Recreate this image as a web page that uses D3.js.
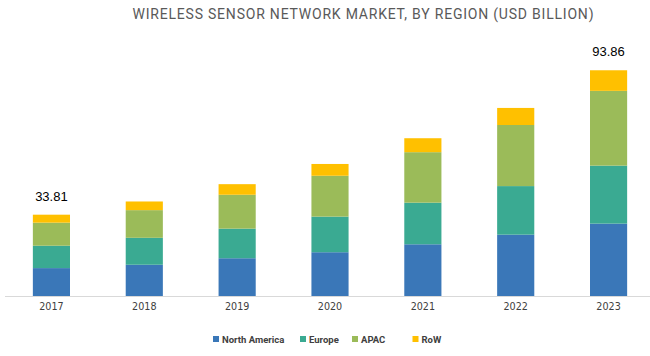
<!DOCTYPE html>
<html>
<head>
<meta charset="utf-8">
<script src="https://cdn.jsdelivr.net/npm/d3@7"></script>
<style>
  html, body { margin: 0; padding: 0; background: #fff; }
  svg { display: block; }
</style>
</head>
<body>
<svg id="chart" width="650" height="356"></svg>
<script>
const years = ["2017", "2018", "2019", "2020", "2021", "2022", "2023"];
const seriesNames = ["North America", "Europe", "APAC", "RoW"];
const northAmerica = [11.6, 13.0, 15.7, 18.2, 21.5, 25.5, 30.1];
const europe       = [9.3, 11.2, 12.3, 14.8, 17.3, 20.2, 24.1];
const apac         = [9.6, 11.5, 14.1, 17.0, 21.0, 25.4, 31.1];
const row          = [3.31, 3.6, 4.4, 4.9, 5.8, 7.1, 8.56];
const labelYears   = ["2017", "2023"];
const labelTexts   = ["33.81", "93.86"];
const colors = ["#3a77b8", "#3aaa92", "#9bbb59", "#ffc000"];
const titleText = "WIRELESS SENSOR NETWORK MARKET, BY REGION (USD BILLION)";

const svg = d3.select("#chart");

const table = years.map((y, i) => ({
  year: y,
  "North America": northAmerica[i],
  "Europe": europe[i],
  "APAC": apac[i],
  "RoW": row[i]
}));

const x = d3.scaleBand().domain(years).range([5, 655]).paddingInner(0.6).paddingOuter(0.3);
const y = d3.scaleLinear().domain([0, 100]).range([296, 55.5]);
const color = d3.scaleOrdinal().domain(seriesNames).range(colors);

// title
svg.append("text")
  .attr("x", 132.5).attr("y", 19.3)
  .attr("text-anchor", "start")
  .attr("font-family", "Roboto, sans-serif")
  .attr("font-size", 14)
  .attr("textLength", 461)
  .attr("lengthAdjust", "spacing")
  .attr("fill", "#595959")
  .text(titleText);

// axis baseline
svg.append("line")
  .attr("x1", 5).attr("x2", 650)
  .attr("y1", y(0) + 0.5).attr("y2", y(0) + 0.5)
  .attr("stroke", "#d9d9d9").attr("stroke-width", 1);

const stacked = d3.stack().keys(seriesNames)(table);

svg.append("g").selectAll("g")
  .data(stacked)
  .join("g")
  .attr("fill", d => color(d.key))
  .selectAll("rect")
  .data(d => d)
  .join("rect")
  .attr("x", d => x(d.data.year))
  .attr("width", x.bandwidth())
  .attr("y", d => y(d[1]))
  .attr("height", d => y(d[0]) - y(d[1]));

// x axis labels
const xAxis = d3.axisBottom(x).tickSize(0).tickPadding(0);
const gx = svg.append("g").attr("transform", `translate(0, ${y(0) + 7})`).call(xAxis);
gx.select(".domain").remove();
gx.selectAll("text")
  .attr("dy", "0.71em")
  .attr("font-family", "'DejaVu Sans', sans-serif")
  .attr("font-size", 9.6)
  .attr("fill", "#404040");

// value labels
const totals = table.map(d => seriesNames.reduce((s, k) => s + d[k], 0));
svg.append("g").selectAll("text")
  .data(labelYears)
  .join("text")
  .attr("x", d => x(d) + x.bandwidth() / 2)
  .attr("y", (d) => y(totals[years.indexOf(d)]) - 14)
  .attr("text-anchor", "middle")
  .attr("font-family", "'Liberation Sans', Arial, sans-serif")
  .attr("font-size", 13)
  .attr("fill", "#000")
  .text((d, i) => labelTexts[i]);

// legend
const legendX = [213, 300, 352, 412.5];
const lg = svg.append("g").selectAll("g")
  .data(seriesNames)
  .join("g")
  .attr("transform", (d, i) => `translate(${legendX[i]}, 336)`);
lg.append("rect").attr("width", 6).attr("height", 6).attr("fill", d => color(d));
lg.append("text")
  .attr("x", 9).attr("y", 6.5)
  .attr("font-family", "Roboto, sans-serif")
  .attr("font-weight", "bold")
  .attr("font-size", 9.5)
  .attr("fill", "#404040")
  .text(d => d);
</script>
</body>
</html>
